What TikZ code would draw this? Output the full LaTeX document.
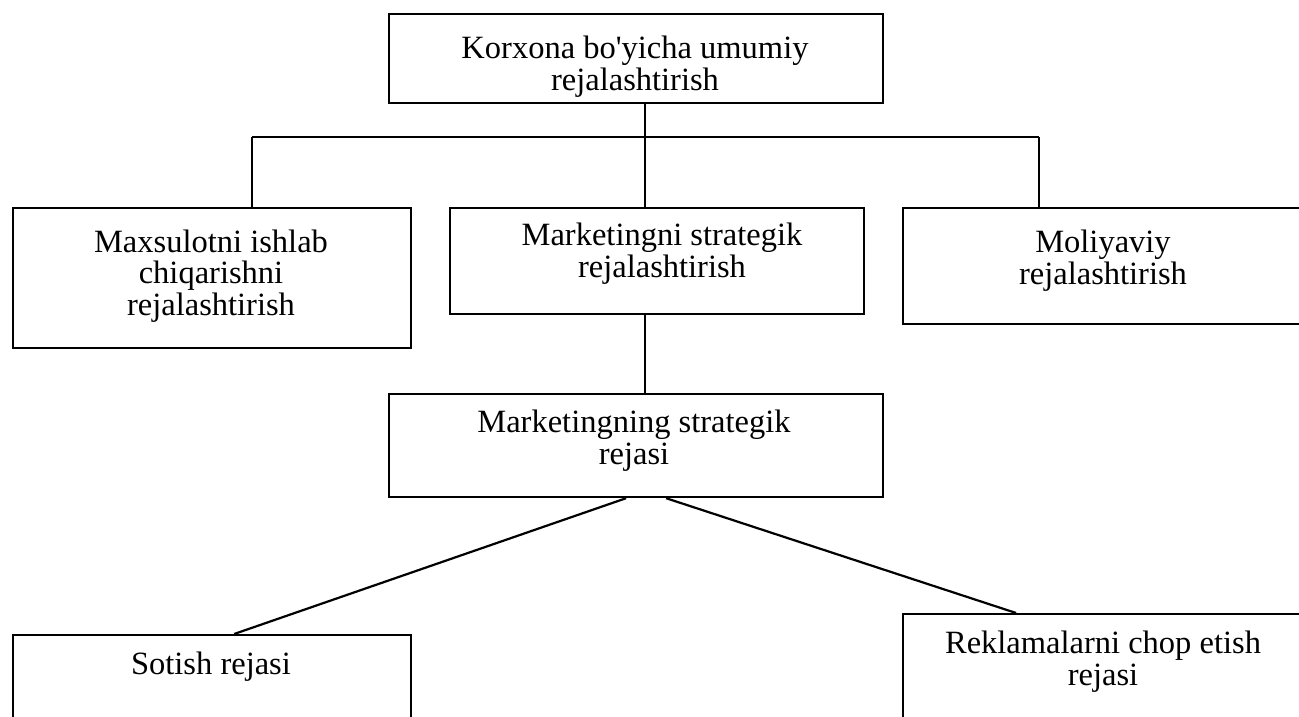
\documentclass[tikz,border=0pt]{standalone}
\usepackage{fontspec}
\setmainfont{Liberation Serif}
\usetikzlibrary{calc}
\begin{document}
\begin{tikzpicture}[x=1pt,y=-1pt,
  box/.style={draw=black,line width=2.2pt,inner sep=0pt,anchor=north west},
  label/.style={anchor=base,align=center,inner sep=0pt,
    font=\fontsize{32.5}{31.5}\selectfont},
  link/.style={draw=black,line width=2.2pt}]
  \useasboundingbox (0,0) rectangle (1299,717);
  \clip (0,0) rectangle (1299,717);

  % boxes (x from left, y from top)
  \node[box,minimum width=494pt,minimum height=89pt]  (top)   at (388,13)  {};
  \node[box,minimum width=398pt,minimum height=140pt] (prod)  at (12,207)  {};
  \node[box,minimum width=414pt,minimum height=106pt] (mark)  at (449,207) {};
  \node[box,minimum width=400pt,minimum height=116pt] (fin)   at (902,207) {};
  \node[box,minimum width=494pt,minimum height=103pt] (plan)  at (388,393) {};
  \node[box,minimum width=398pt,minimum height=110pt] (sales) at (12,634)  {};
  \node[box,minimum width=400pt,minimum height=130pt] (ads)   at (902,613) {};

  % texts, placed by the baseline of their last line
  \node[label] (topT)   at (635,90)   {Korxona bo\textquotesingle yicha umumiy\\rejalashtirish};
  \node[label] (prodT)  at (211,315)  {Maxsulotni ishlab\\chiqarishni\\rejalashtirish};
  \node[label] (markT)  at (662,277)  {Marketingni strategik\\rejalashtirish};
  \node[label] (finT)   at (1103,284) {Moliyaviy\\rejalashtirish};
  \node[label] (planT)  at (634,464)  {Marketingning strategik\\rejasi};
  \node[label] (salesT) at (211,674)  {Sotish rejasi};
  \node[label] (adsT)   at (1103,685) {Reklamalarni chop etish\\rejasi};

  % distribution bus under the top box
  \coordinate (busL) at (252,137);
  \coordinate (busC) at (645,137);
  \coordinate (busR) at (1039,137);

  \draw[link] (top.south -| busC) -- (busC);
  \draw[link] (busL) -- (busR);
  \draw[link] (busL) -- (busL |- prod.north);
  \draw[link] (busC) -- (busC |- mark.north);
  \draw[link] (busR) -- (busR |- fin.north);
  \draw[link] (mark.south -| busC) -- (busC |- plan.north);

  % branches to the two sub-plans
  \draw[link] ($(plan.south)+(-10,0)$) -- ($(sales.north)+(22,0)$);
  \draw[link] ($(plan.south)+(30,0)$) -- ($(ads.north)+(-87,0)$);
\end{tikzpicture}
\end{document}
